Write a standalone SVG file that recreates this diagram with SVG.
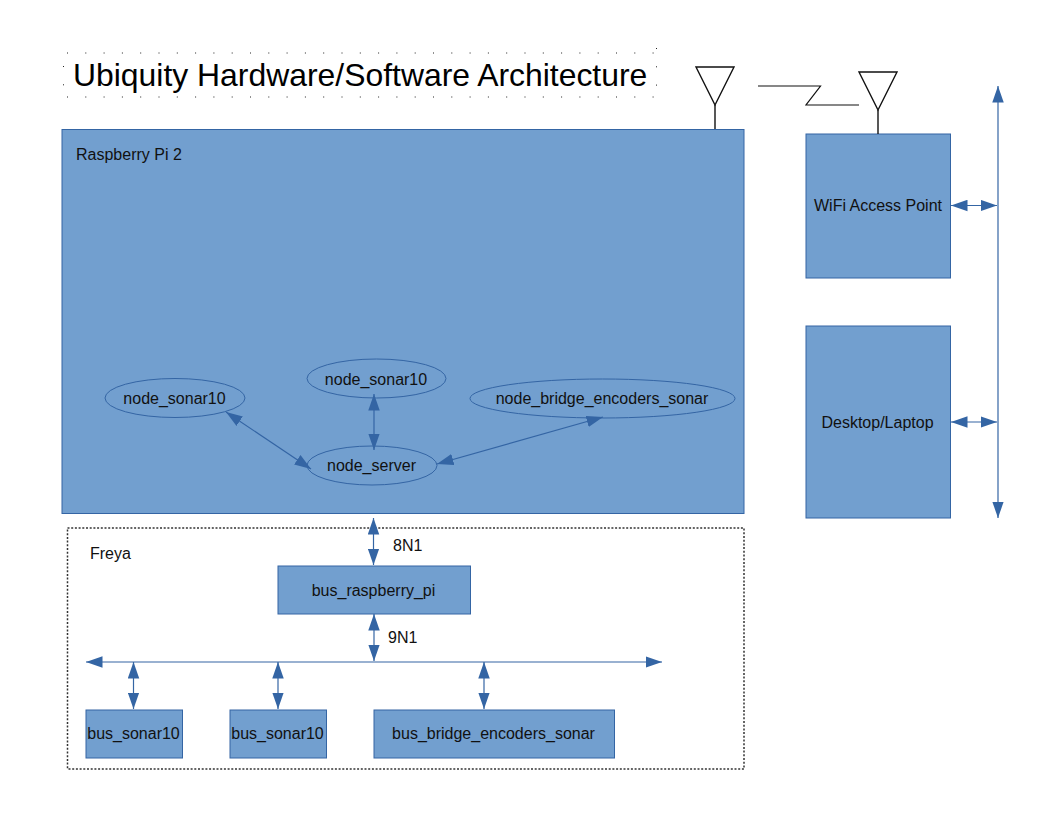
<svg xmlns="http://www.w3.org/2000/svg" width="1056" height="816" viewBox="0 0 1056 816">
<style>
text{font-family:"Liberation Sans",Arial,sans-serif;font-size:16px;fill:#111}
.c{text-anchor:middle}
.b{fill:#729fcf;stroke:#3465a4;stroke-width:1}
.e{fill:none;stroke:#3465a4;stroke-width:1}
.k{fill:none;stroke:#111;stroke-width:1.4}
.a{fill:none;stroke:#3465a4;stroke-width:1.2;marker-start:url(#h);marker-end:url(#h)}
.t{fill:none;stroke:#222;stroke-width:1;stroke-dasharray:1 17.3}
</style>
<defs>
<marker id="h" markerUnits="userSpaceOnUse" markerWidth="17" markerHeight="12" refX="16.5" refY="5.75" orient="auto-start-reverse" viewBox="0 0 17 11.500"><path d="M0 0L16.500 5.750L0 11.500z" fill="#3465a4"/></marker>
</defs>
<rect width="1056" height="816" fill="#fff"/>
<g id="title">
<path class="t" d="M67 53H657M67 97H657M63.500 66V97M656.500 48V97"/>
<text x="73" y="86" style="font-size:31.900px;fill:#000">Ubiquity Hardware/Software Architecture</text>
</g>
<g id="raspberry-pi"><rect class="b" x="62" y="129.500" width="682" height="384"/><text x="76" y="160">Raspberry Pi 2</text></g>
<g id="wifi-access-point"><rect class="b" x="806" y="134" width="144.500" height="144"/><text class="c" x="878" y="211">WiFi Access Point</text></g>
<g id="desktop-laptop"><rect class="b" x="806" y="326" width="144.500" height="192"/><text class="c" x="877.500" y="427.500">Desktop/Laptop</text></g>
<g id="freya"><rect x="67.500" y="528" width="676.500" height="241" fill="none" stroke="#333" stroke-width="1.500" stroke-dasharray="2 1.700"/><text x="90" y="559">Freya</text></g>
<g id="antenna-pi"><path class="k" d="M696 67H734L715 105Z"/><path class="k" d="M715 105V129"/></g>
<g id="antenna-wifi"><path class="k" d="M859 72H897L878 110Z"/><path class="k" d="M878 110V134"/></g>
<g id="node-sonar10-a"><ellipse class="e" cx="175" cy="398" rx="70" ry="19.500"/><text class="c" x="174.500" y="403.500">node_sonar10</text></g>
<g id="node-sonar10-b"><ellipse class="e" cx="376.500" cy="378.500" rx="69.500" ry="19.500"/><text class="c" x="376" y="384.500">node_sonar10</text></g>
<g id="node-bridge-encoders-sonar"><ellipse class="e" cx="602.500" cy="398.500" rx="132.500" ry="19.500"/><text class="c" x="602" y="404">node_bridge_encoders_sonar</text></g>
<g id="node-server"><ellipse class="e" cx="372" cy="465.500" rx="65" ry="19.500"/><text class="c" x="371.500" y="471">node_server</text></g>
<g id="bus-raspberry-pi"><rect class="b" x="278" y="566" width="192.500" height="48"/><text class="c" x="373.500" y="595.500">bus_raspberry_pi</text></g>
<g id="bus-sonar10-a"><rect class="b" x="86" y="710" width="96.500" height="48"/><text class="c" x="133.500" y="739">bus_sonar10</text></g>
<g id="bus-sonar10-b"><rect class="b" x="230" y="710" width="96.500" height="48"/><text class="c" x="277.500" y="739">bus_sonar10</text></g>
<g id="bus-bridge-encoders-sonar"><rect class="b" x="374" y="710" width="240.500" height="48"/><text class="c" x="493.500" y="739">bus_bridge_encoders_sonar</text></g>
<g id="connectors">
<path class="k" d="M758 86H820.500L806 105H859" style="stroke-width:1.200"/>
<path class="a" d="M226 412L311 469"/>
<path class="a" d="M374 394V450"/>
<path class="a" d="M603 417L437 464"/>
<path class="a" d="M373.500 518V565"/>
<path class="a" d="M374 614V661"/>
<path class="a" d="M86 662H662"/>
<path class="a" d="M133.500 662V709"/>
<path class="a" d="M278 662V709"/>
<path class="a" d="M484 662V709"/>
<path class="a" d="M998 86V518"/>
<path class="a" d="M951 205.500H997"/>
<path class="a" d="M951 422H997"/>
</g>
<text x="393" y="551">8N1</text>
<text x="388" y="643">9N1</text>
</svg>
